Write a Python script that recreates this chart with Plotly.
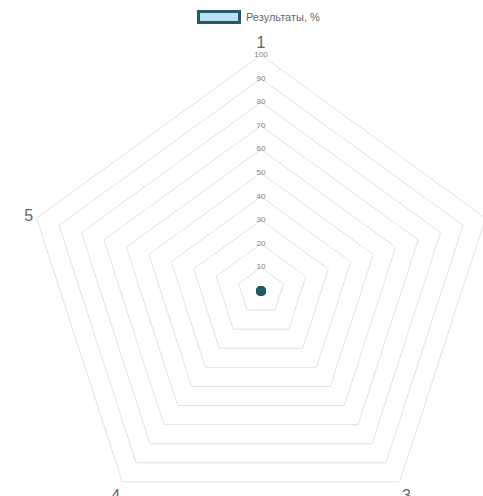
import plotly.graph_objects as go

categories = ["1", "2", "3", "4", "5"]
values = [0, 0, 0, 0, 0]
series_name = "Результаты, %"
tick_values = [10, 20, 30, 40, 50, 60, 70, 80, 90, 100]
tick_labels = [str(v) for v in tick_values]

W, H = 510, 540
cx, cy, R = 261, 291, 236
dom = dict(x=[(cx - R) / W, (cx + R) / W], y=[1 - (cy + R) / H, 1 - (cy - R) / H])

fig = go.Figure()
# filled area (pentagon grid subplot)
fig.add_trace(go.Scatterpolar(
    r=values + values[:1],
    theta=categories + categories[:1],
    name=series_name,
    mode="lines",
    fill="toself",
    fillcolor="rgba(173,216,230,0.8)",
    line=dict(color="#1d5a6a", width=3),
    showlegend=False,
    subplot="polar",
))
# radial tick labels along axis "1"
fig.add_trace(go.Scatterpolar(
    r=tick_values,
    theta=[categories[0]] * len(tick_values),
    text=tick_labels,
    mode="text",
    textfont=dict(size=8, color="#808080", family="Liberation Sans"),
    showlegend=False,
    hoverinfo="skip",
    subplot="polar",
))
# point markers (overlay subplot with same scale, circular so r=0 is kept)
fig.add_trace(go.Scatterpolar(
    r=values,
    theta=categories,
    name=series_name,
    mode="markers",
    marker=dict(color="#1d5a6a", size=10, symbol="circle"),
    showlegend=False,
    subplot="polar2",
))

# legend (Chart.js style box + label)
fig.add_shape(type="rect", xref="paper", yref="paper",
              x0=198.5 / W, x1=239.5 / W, y0=1 - 22.5 / H, y1=1 - 11.5 / H,
              fillcolor="#bde0ee", line=dict(color="#24586a", width=3))
fig.add_annotation(xref="paper", yref="paper", x=244 / W, y=1 - 17 / H,
                   xanchor="left", yanchor="middle", showarrow=False,
                   text=series_name, font=dict(size=11, color="#666666"))

fig.update_layout(
    width=W, height=H,
    margin=dict(l=0, r=0, t=0, b=0),
    paper_bgcolor="white",
    font=dict(family="Liberation Sans", color="#666666"),
    showlegend=False,
    polar=dict(
        domain=dom,
        gridshape="linear",
        bgcolor="white",
        radialaxis=dict(range=[0, 100], tickvals=tick_values, showticklabels=False,
                        ticks="", showline=False, gridcolor="#e2e2e2", gridwidth=1),
        angularaxis=dict(rotation=90, direction="clockwise", showgrid=False,
                         categoryorder="array", categoryarray=categories,
                         showline=True, linecolor="#e2e2e2", ticks="",
                         tickfont=dict(size=16, color="#666666")),
    ),
    polar2=dict(
        domain=dom,
        gridshape="circular",
        bgcolor="rgba(0,0,0,0)",
        radialaxis=dict(range=[0, 100], visible=False),
        angularaxis=dict(rotation=90, direction="clockwise", showgrid=False,
                         categoryorder="array", categoryarray=categories,
                         showline=False, showticklabels=False, ticks=""),
    ),
)

fig.write_html("out.html", config={"displayModeBar": False},
               post_script="document.body.style.margin='0';document.body.style.overflow='hidden';")
